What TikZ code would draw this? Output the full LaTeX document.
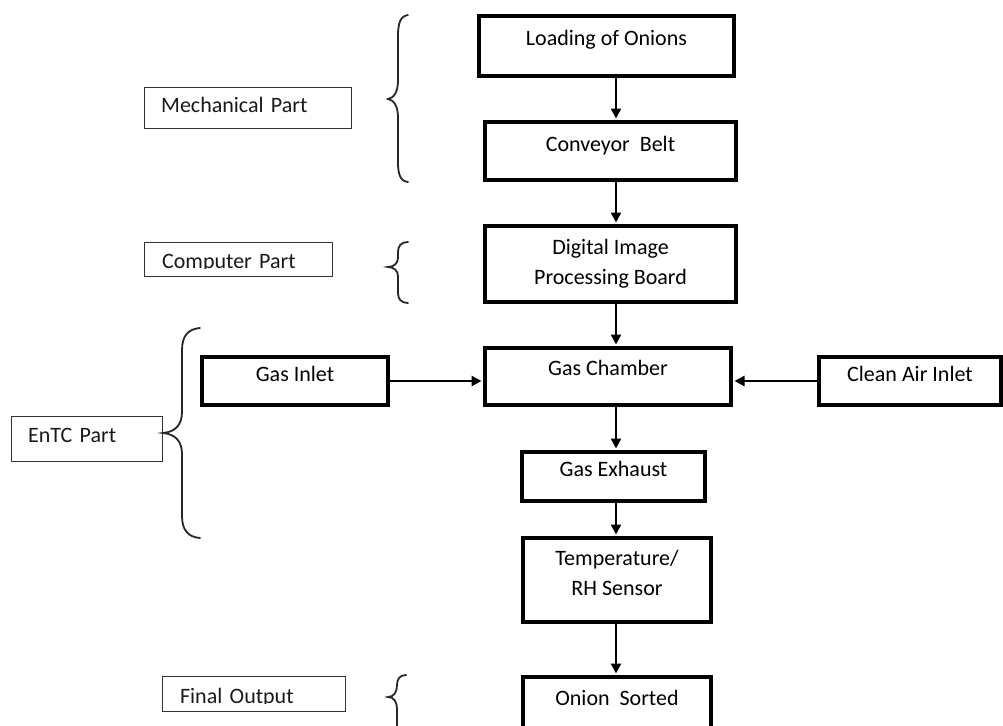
\documentclass[tikz,border=0pt]{standalone}
\usepackage{fontspec}
\setmainfont{Carlito}
\usetikzlibrary{arrows.meta,calc}
\tikzset{
  mainbox/.style={draw=black, line width=4pt, inner sep=0pt, align=center,
    font=\fontsize{22}{30}\selectfont, text=black},
  single/.style={text height=5pt, text depth=5pt},
  sidebox/.style={draw=black!80, line width=1.4pt, inner ysep=0pt, align=left,
    font=\fontsize{22}{26}\selectfont, text=black!90},
  arr/.style={line width=2.6pt, -{Triangle[length=10pt,width=10pt]}, shorten >=1.5pt},
  bracepath/.style={line width=1.8pt, draw=black!85, line cap=round},
}
\begin{document}
\begin{tikzpicture}[x=1pt,y=-1pt]
\useasboundingbox (0,0) rectangle (1003,725);
\clip (0,0) rectangle (1003,725);

% main flow boxes
\node[mainbox,single,minimum width=255pt,minimum height=60pt] (load) at (606.5,46) {Loading of Onions};
\node[mainbox,single,minimum width=251pt,minimum height=58pt] (conv) at (610.5,151) {Conveyor\ \ Belt};
\node[mainbox,minimum width=251pt,minimum height=76pt] (dip) at (610.5,264) {Digital Image\\Processing Board};
\node[mainbox,single,minimum width=246pt,minimum height=57pt,text height=3pt] (gasch) at (608,376.5) {Gas Chamber};
\node[mainbox,single,minimum width=186pt,minimum height=48pt] (gasin) at (295,381) {Gas Inlet};
\node[mainbox,single,minimum width=182pt,minimum height=48pt] (clean) at (910,381) {Clean Air Inlet};
\node[mainbox,single,minimum width=183pt,minimum height=49pt] (exh) at (613.5,476.5) {Gas Exhaust};
\node[mainbox,minimum width=188pt,minimum height=84pt] (temp) at (617,580) {Temperature/\\RH Sensor\rule[-15pt]{0pt}{0pt}};
\node[mainbox,minimum width=188pt,minimum height=61pt,text height=5pt,text depth=10pt] (sorted) at (617,707.5) {Onion\ \ Sorted};

% side label boxes
\node[sidebox,text width=173.6pt,inner xsep=16.5pt,minimum height=40.6pt,text height=13pt,text depth=5pt] (mech) at (248,108) {Mechanical Part};
\node[sidebox,text width=152.8pt,inner xsep=17.4pt,minimum height=33.6pt,text height=22pt,text depth=5pt] (comp) at (238.5,259.5) {Computer Part};
\node[sidebox,text width=117.8pt,inner xsep=16.4pt,minimum height=44.6pt,text height=11pt,text depth=5pt] (entc) at (87,439) {EnTC Part};
\node[sidebox,text width=147.8pt,inner xsep=17.4pt,minimum height=34.6pt,text height=23pt,text depth=5pt] (final) at (254,694) {Final Output};

% clipped descenders as in the reference
\fill[white] ($(comp.south west)+(2,-1.2)$) rectangle ($(comp.south east)+(-2,-8.2)$);
\fill[white] ($(final.south west)+(2,-1.2)$) rectangle ($(final.south east)+(-2,-8.2)$);

% connectors
\coordinate (ax) at (616,0);
\draw[arr] (load.south -| ax) -- (conv.north -| ax);
\draw[arr] (conv.south -| ax) -- (dip.north -| ax);
\draw[arr] (dip.south -| ax) -- (gasch.north -| ax);
\draw[arr] (gasch.south -| ax) -- (exh.north -| ax);
\draw[arr] (exh.south -| ax) -- (temp.north -| ax);
\draw[arr] (temp.south -| ax) -- (sorted.north -| ax);
\draw[arr] (gasin.east) -- (gasin.east -| gasch.west);
\draw[arr] (clean.west) -- (clean.west -| gasch.east);

% braces
\draw[bracepath] (408,15) .. controls (400,16) and (398,24) .. (398,36) -- (398,80)
  .. controls (398,92) and (394,98) .. (388,99) .. controls (394,100) and (398,106) .. (398,118)
  -- (398,162) .. controls (398,174) and (400,181) .. (408,182);
\draw[bracepath] (408,242) .. controls (401,242) and (398,246) .. (398,252) -- (398,258)
  .. controls (398,263) and (394,267) .. (388,267) .. controls (394,267) and (398,271) .. (398,276)
  -- (398,293) .. controls (398,299) and (401,303) .. (408,303);
\draw[bracepath] (200,328) .. controls (188,329) and (182,336) .. (182,350) -- (182,412)
  .. controls (182,425) and (175,432) .. (163,433) .. controls (175,434) and (182,441) .. (182,454)
  -- (182,516) .. controls (182,530) and (188,537) .. (200,538);
\draw[bracepath] (406,675) .. controls (400,675) and (397,679) .. (397,685)
  .. controls (397,692) and (394,697) .. (388,697) .. controls (394,697) and (397,702) .. (397,709)
  -- (397,750);
\end{tikzpicture}
\end{document}
